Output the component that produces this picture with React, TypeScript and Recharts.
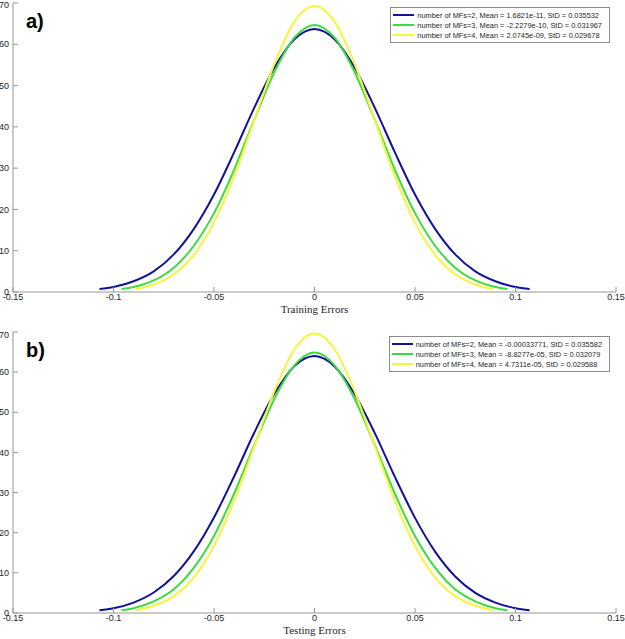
import { LineChart, Line, XAxis, YAxis } from 'recharts';

// x positions of the sampled points (each curve ends at about 3 StD)
const xBlue = [-0.107, -0.1, -0.09, -0.08, -0.07, -0.06, -0.05, -0.04, -0.03, -0.02, -0.01, 0, 0.01, 0.02, 0.03, 0.04, 0.05, 0.06, 0.07, 0.08, 0.09, 0.1, 0.107];
const xGreen = [-0.096, -0.09, -0.08, -0.07, -0.06, -0.05, -0.04, -0.03, -0.02, -0.01, 0, 0.01, 0.02, 0.03, 0.04, 0.05, 0.06, 0.07, 0.08, 0.09, 0.096];
const xYellow = [-0.089, -0.08, -0.07, -0.06, -0.05, -0.04, -0.03, -0.02, -0.01, 0, 0.01, 0.02, 0.03, 0.04, 0.05, 0.06, 0.07, 0.08, 0.089];

// a) training errors
const trainBlue = [0.7, 1.2, 2.6, 5.0, 9.1, 15.3, 23.6, 33.8, 44.6, 54.3, 61.2, 63.7, 61.2, 54.3, 44.6, 33.8, 23.6, 15.3, 9.1, 5.0, 2.6, 1.2, 0.7];
const trainGreen = [0.7, 1.2, 2.8, 5.9, 11.2, 19.1, 29.6, 41.7, 53.2, 61.6, 64.7, 61.6, 53.2, 41.7, 29.6, 19.1, 11.2, 5.9, 2.8, 1.2, 0.7];
const trainYellow = [0.7, 1.8, 4.3, 9.0, 16.8, 28.0, 41.6, 55.2, 65.5, 69.3, 65.5, 55.2, 41.6, 28.0, 16.8, 9.0, 4.3, 1.8, 0.7];

// b) testing errors
const testBlue = [0.7, 1.2, 2.6, 5.1, 9.2, 15.4, 23.8, 34.0, 44.9, 54.6, 61.5, 64.0, 61.4, 54.5, 44.8, 33.9, 23.7, 15.3, 9.1, 5.0, 2.6, 1.2, 0.7];
const testGreen = [0.7, 1.2, 2.9, 5.9, 11.3, 19.2, 29.7, 41.8, 53.3, 61.7, 64.9, 61.7, 53.3, 41.8, 29.7, 19.2, 11.3, 5.9, 2.9, 1.2, 0.7];
const testYellow = [0.7, 1.8, 4.2, 8.9, 16.7, 27.9, 41.5, 55.2, 65.7, 69.6, 65.7, 55.2, 41.5, 27.9, 16.7, 8.9, 4.2, 1.8, 0.7];

const xTicks = [-0.15, -0.1, -0.05, 0, 0.05, 0.1, 0.15];
const yTicks = [0, 10, 20, 30, 40, 50, 60, 70];

const trainLabels = [
    'number of MFs=2, Mean = 1.6821e-11, StD = 0.035532',
    'number of MFs=3, Mean = -2.2279e-10, StD = 0.031967',
    'number of MFs=4, Mean = 2.0745e-09, StD = 0.029678',
];
const testLabels = [
    'number of MFs=2, Mean = -0.00033771, StD = 0.035582',
    'number of MFs=3, Mean = -8.8277e-05, StD = 0.032079',
    'number of MFs=4, Mean = 4.7311e-05, StD = 0.029588',
];

const COLORS = ['#12129c', '#3ddc3d', '#f5f53e'];
const AXIS = '#969696';
const SANS = '"Liberation Sans", Arial, sans-serif';

const pts = (xs: number[], ys: number[]) => xs.map((x, i) => ({ x, y: ys[i] }));

const Panel = ({ tag, title, series, labels, height, top, bottom, legendTop }: any) => {
    const tickStyle = { fontSize: 9, fill: '#262626', fontFamily: SANS };
    return (
        <div style={{ position: 'relative', width: 625, height }}>
            <LineChart width={625} height={height} margin={{ top, right: 9, left: 0, bottom: 0 }}>
                <XAxis
                    xAxisId="b" dataKey="x" type="number" domain={[-0.15, 0.15]} ticks={xTicks}
                    allowDataOverflow height={bottom} stroke={AXIS} tickSize={-5} tickMargin={7}
                    tick={tickStyle} tickFormatter={(v) => String(v)}
                    label={{ value: title, position: 'insideBottom', offset: bottom - 21, fill: '#262626', fontSize: 11, fontFamily: '"Liberation Serif", "Times New Roman", serif' }}
                />
                <XAxis
                    xAxisId="t" orientation="top" dataKey="x" type="number" domain={[-0.15, 0.15]} ticks={xTicks}
                    allowDataOverflow height={0} stroke={AXIS} tickSize={-5} tick={false}
                />
                <YAxis
                    yAxisId="l" type="number" domain={[0, 70]} ticks={yTicks} allowDataOverflow width={13}
                    stroke={AXIS} tickSize={-5} tickMargin={9} tick={tickStyle}
                />
                <YAxis
                    yAxisId="r" orientation="right" type="number" domain={[0, 70]} ticks={yTicks} allowDataOverflow width={0}
                    stroke={AXIS} tickSize={-5} tick={false}
                />
                {series.map((s: any, i: number) => (
                    <Line
                        key={i} data={s} dataKey="y" xAxisId="b" yAxisId="l" type="monotone"
                        stroke={COLORS[i]} strokeWidth={2} dot={false} activeDot={false}
                        name={labels[i]} isAnimationActive={false}
                    />
                ))}
            </LineChart>
            <div style={{ position: 'absolute', left: 26, top: top + 8, fontFamily: SANS, fontWeight: 'bold', fontSize: 20, lineHeight: '20px' }}>
                {tag}
            </div>
            <div style={{
                position: 'absolute', right: 15, top: legendTop, background: '#fff', border: '1px solid #8c8c8c',
                padding: '2px 7px 2px 2px', fontFamily: SANS, fontSize: 7.4, color: '#262626',
            }}>
                {labels.map((l: string, i: number) => (
                    <div key={i} style={{ display: 'flex', alignItems: 'center', height: 10, whiteSpace: 'nowrap' }}>
                        <span style={{ display: 'inline-block', width: 21, height: 2, background: COLORS[i], marginRight: 3 }} />
                        {l}
                    </div>
                ))}
            </div>
        </div>
    );
};

export default function App() {
    return (
        <div style={{ position: 'absolute', left: 0, top: 0, width: 625, height: 639, background: '#fff', overflow: 'hidden' }}>
            <Panel
                tag="a)" title="Training Errors" labels={trainLabels} height={330} top={3} bottom={38} legendTop={7}
                series={[pts(xBlue, trainBlue), pts(xGreen, trainGreen), pts(xYellow, trainYellow)]}
            />
            <Panel
                tag="b)" title="Testing Errors" labels={testLabels} height={309} top={2} bottom={26} legendTop={6}
                series={[pts(xBlue, testBlue), pts(xGreen, testGreen), pts(xYellow, testYellow)]}
            />
        </div>
    );
}
